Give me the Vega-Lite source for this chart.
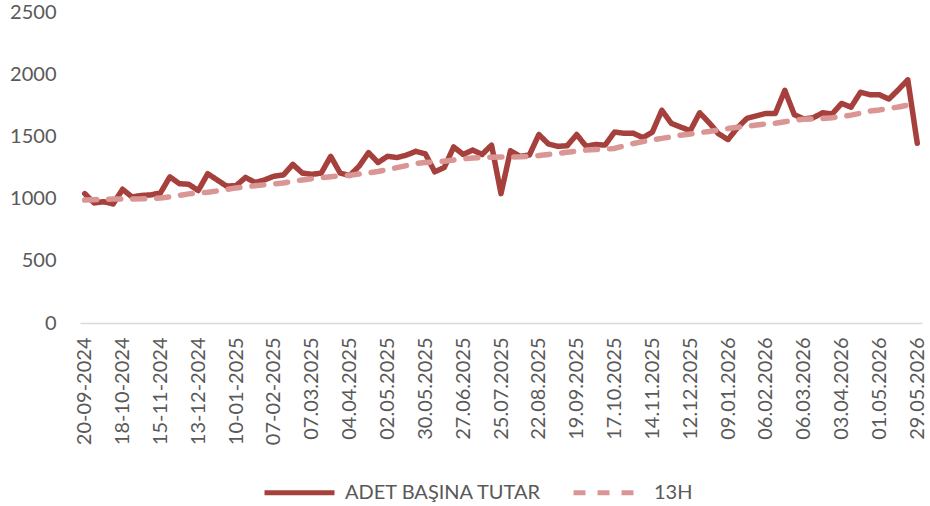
{
  "$schema": "https://vega.github.io/schema/vega-lite/v6.json",
  "width": 842,
  "height": 311,
  "autosize": {"type": "none"},
  "padding": {"left": 80, "right": 8, "top": 12, "bottom": 183},
  "background": "white",
  "config": {
    "view": {"stroke": null},
    "font": "Lato",
    "axis": {"labelFont": "Lato", "labelColor": "#595959", "labelFontSize": 20, "ticks": false, "grid": false, "title": null}
  },
  "data": {"values": [
    {"t":"20-09-2024","ADET BAŞINA TUTAR":1040,"13H":988},
    {"t":"27-09-2024","ADET BAŞINA TUTAR":965,"13H":991},
    {"t":"04-10-2024","ADET BAŞINA TUTAR":975,"13H":994},
    {"t":"11-10-2024","ADET BAŞINA TUTAR":957,"13H":997},
    {"t":"18-10-2024","ADET BAŞINA TUTAR":1075,"13H":997},
    {"t":"25-10-2024","ADET BAŞINA TUTAR":1013,"13H":997},
    {"t":"01-11-2024","ADET BAŞINA TUTAR":1025,"13H":998},
    {"t":"08-11-2024","ADET BAŞINA TUTAR":1030,"13H":1001},
    {"t":"15-11-2024","ADET BAŞINA TUTAR":1045,"13H":1004},
    {"t":"22-11-2024","ADET BAŞINA TUTAR":1175,"13H":1014},
    {"t":"29-11-2024","ADET BAŞINA TUTAR":1120,"13H":1026},
    {"t":"06-12-2024","ADET BAŞINA TUTAR":1115,"13H":1038},
    {"t":"13-12-2024","ADET BAŞINA TUTAR":1065,"13H":1044},
    {"t":"20-12-2024","ADET BAŞINA TUTAR":1200,"13H":1051},
    {"t":"27-12-2024","ADET BAŞINA TUTAR":1150,"13H":1061},
    {"t":"03-01-2025","ADET BAŞINA TUTAR":1100,"13H":1074},
    {"t":"10-01-2025","ADET BAŞINA TUTAR":1105,"13H":1086},
    {"t":"17-01-2025","ADET BAŞINA TUTAR":1170,"13H":1095},
    {"t":"24-01-2025","ADET BAŞINA TUTAR":1130,"13H":1103},
    {"t":"31-01-2025","ADET BAŞINA TUTAR":1150,"13H":1111},
    {"t":"07-02-2025","ADET BAŞINA TUTAR":1180,"13H":1118},
    {"t":"14-02-2025","ADET BAŞINA TUTAR":1190,"13H":1126},
    {"t":"21-02-2025","ADET BAŞINA TUTAR":1275,"13H":1139},
    {"t":"28-02-2025","ADET BAŞINA TUTAR":1205,"13H":1150},
    {"t":"07.03.2025","ADET BAŞINA TUTAR":1195,"13H":1159},
    {"t":"14.03.2025","ADET BAŞINA TUTAR":1205,"13H":1168},
    {"t":"21.03.2025","ADET BAŞINA TUTAR":1340,"13H":1176},
    {"t":"28.03.2025","ADET BAŞINA TUTAR":1205,"13H":1182},
    {"t":"04.04.2025","ADET BAŞINA TUTAR":1185,"13H":1188},
    {"t":"11.04.2025","ADET BAŞINA TUTAR":1260,"13H":1197},
    {"t":"18.04.2025","ADET BAŞINA TUTAR":1370,"13H":1207},
    {"t":"25.04.2025","ADET BAŞINA TUTAR":1290,"13H":1218},
    {"t":"02.05.2025","ADET BAŞINA TUTAR":1340,"13H":1233},
    {"t":"09.05.2025","ADET BAŞINA TUTAR":1330,"13H":1249},
    {"t":"16.05.2025","ADET BAŞINA TUTAR":1350,"13H":1265},
    {"t":"23.05.2025","ADET BAŞINA TUTAR":1380,"13H":1282},
    {"t":"30.05.2025","ADET BAŞINA TUTAR":1360,"13H":1290},
    {"t":"06.06.2025","ADET BAŞINA TUTAR":1215,"13H":1296},
    {"t":"13.06.2025","ADET BAŞINA TUTAR":1250,"13H":1301},
    {"t":"20.06.2025","ADET BAŞINA TUTAR":1415,"13H":1310},
    {"t":"27.06.2025","ADET BAŞINA TUTAR":1355,"13H":1319},
    {"t":"04.07.2025","ADET BAŞINA TUTAR":1390,"13H":1327},
    {"t":"11.07.2025","ADET BAŞINA TUTAR":1355,"13H":1330},
    {"t":"18.07.2025","ADET BAŞINA TUTAR":1430,"13H":1333},
    {"t":"25.07.2025","ADET BAŞINA TUTAR":1040,"13H":1334},
    {"t":"01.08.2025","ADET BAŞINA TUTAR":1385,"13H":1334},
    {"t":"08.08.2025","ADET BAŞINA TUTAR":1340,"13H":1336},
    {"t":"15.08.2025","ADET BAŞINA TUTAR":1350,"13H":1340},
    {"t":"22.08.2025","ADET BAŞINA TUTAR":1515,"13H":1346},
    {"t":"29.08.2025","ADET BAŞINA TUTAR":1440,"13H":1355},
    {"t":"05.09.2025","ADET BAŞINA TUTAR":1420,"13H":1363},
    {"t":"12.09.2025","ADET BAŞINA TUTAR":1425,"13H":1372},
    {"t":"19.09.2025","ADET BAŞINA TUTAR":1515,"13H":1381},
    {"t":"26.09.2025","ADET BAŞINA TUTAR":1420,"13H":1390},
    {"t":"03.10.2025","ADET BAŞINA TUTAR":1435,"13H":1394},
    {"t":"10.10.2025","ADET BAŞINA TUTAR":1430,"13H":1397},
    {"t":"17.10.2025","ADET BAŞINA TUTAR":1535,"13H":1403},
    {"t":"24.10.2025","ADET BAŞINA TUTAR":1525,"13H":1424},
    {"t":"31.10.2025","ADET BAŞINA TUTAR":1525,"13H":1443},
    {"t":"07.11.2025","ADET BAŞINA TUTAR":1490,"13H":1458},
    {"t":"14.11.2025","ADET BAŞINA TUTAR":1535,"13H":1471},
    {"t":"21.11.2025","ADET BAŞINA TUTAR":1710,"13H":1484},
    {"t":"28.11.2025","ADET BAŞINA TUTAR":1605,"13H":1496},
    {"t":"05.12.2025","ADET BAŞINA TUTAR":1575,"13H":1510},
    {"t":"12.12.2025","ADET BAŞINA TUTAR":1545,"13H":1519},
    {"t":"19.12.2025","ADET BAŞINA TUTAR":1690,"13H":1530},
    {"t":"26.12.2025","ADET BAŞINA TUTAR":1610,"13H":1540},
    {"t":"02.01.2026","ADET BAŞINA TUTAR":1520,"13H":1552},
    {"t":"09.01.2026","ADET BAŞINA TUTAR":1475,"13H":1563},
    {"t":"16.01.2026","ADET BAŞINA TUTAR":1570,"13H":1573},
    {"t":"23.01.2026","ADET BAŞINA TUTAR":1645,"13H":1582},
    {"t":"30.01.2026","ADET BAŞINA TUTAR":1665,"13H":1591},
    {"t":"06.02.2026","ADET BAŞINA TUTAR":1685,"13H":1599},
    {"t":"13.02.2026","ADET BAŞINA TUTAR":1685,"13H":1606},
    {"t":"20.02.2026","ADET BAŞINA TUTAR":1870,"13H":1618},
    {"t":"27.02.2026","ADET BAŞINA TUTAR":1675,"13H":1629},
    {"t":"06.03.2026","ADET BAŞINA TUTAR":1640,"13H":1638},
    {"t":"13.03.2026","ADET BAŞINA TUTAR":1650,"13H":1641},
    {"t":"20.03.2026","ADET BAŞINA TUTAR":1690,"13H":1644},
    {"t":"27.03.2026","ADET BAŞINA TUTAR":1680,"13H":1650},
    {"t":"03.04.2026","ADET BAŞINA TUTAR":1765,"13H":1660},
    {"t":"10.04.2026","ADET BAŞINA TUTAR":1735,"13H":1671},
    {"t":"17.04.2026","ADET BAŞINA TUTAR":1855,"13H":1686},
    {"t":"24.04.2026","ADET BAŞINA TUTAR":1835,"13H":1703},
    {"t":"01.05.2026","ADET BAŞINA TUTAR":1835,"13H":1713},
    {"t":"08.05.2026","ADET BAŞINA TUTAR":1800,"13H":1725},
    {"t":"15.05.2026","ADET BAŞINA TUTAR":1875,"13H":1736},
    {"t":"22.05.2026","ADET BAŞINA TUTAR":1955,"13H":1751},
    {"t":"29.05.2026","ADET BAŞINA TUTAR":1445,"13H":1762}
  ]},
  "transform": [{"fold": ["ADET BAŞINA TUTAR", "13H"], "as": ["seri", "deger"]}],
  "mark": {"type": "line", "strokeWidth": 5.5, "strokeCap": "round", "strokeJoin": "round"},
  "encoding": {
    "x": {
      "field": "t", "type": "ordinal", "sort": null,
      "scale": {"type": "point", "padding": 0.5},
      "axis": {
        "values": ["20-09-2024","18-10-2024","15-11-2024","13-12-2024","10-01-2025","07-02-2025","07.03.2025","04.04.2025","02.05.2025","30.05.2025","27.06.2025","25.07.2025","22.08.2025","19.09.2025","17.10.2025","14.11.2025","12.12.2025","09.01.2026","06.02.2026","06.03.2026","03.04.2026","01.05.2026","29.05.2026"],
        "labelAngle": -90, "labelAlign": "right", "labelBaseline": "middle", "labelPadding": 14,
        "domainColor": "#d9d9d9", "domainWidth": 1.5, "labelOverlap": false
      }
    },
    "y": {
      "field": "deger", "type": "quantitative",
      "scale": {"domain": [0, 2500]},
      "axis": {"values": [0, 500, 1000, 1500, 2000, 2500], "format": "d", "domain": false, "labelPadding": 24}
    },
    "color": {
      "field": "seri", "type": "nominal",
      "scale": {"domain": ["ADET BAŞINA TUTAR", "13H"], "range": ["#A5403D", "#D99694"]},
      "legend": {
        "title": null, "orient": "none", "legendX": 182, "legendY": 443, "direction": "horizontal",
        "symbolType": "stroke", "symbolSize": 4900, "symbolStrokeWidth": 5,
        "labelFontSize": 20, "labelColor": "#595959", "labelFont": "Lato", "labelLimit": 0, "columnPadding": 21, "labelOffset": 8
      }
    },
    "strokeDash": {
      "field": "seri", "type": "nominal",
      "scale": {"domain": ["ADET BAŞINA TUTAR", "13H"], "range": [[1, 0], [12, 12]]},
      "legend": null
    }
  }
}
